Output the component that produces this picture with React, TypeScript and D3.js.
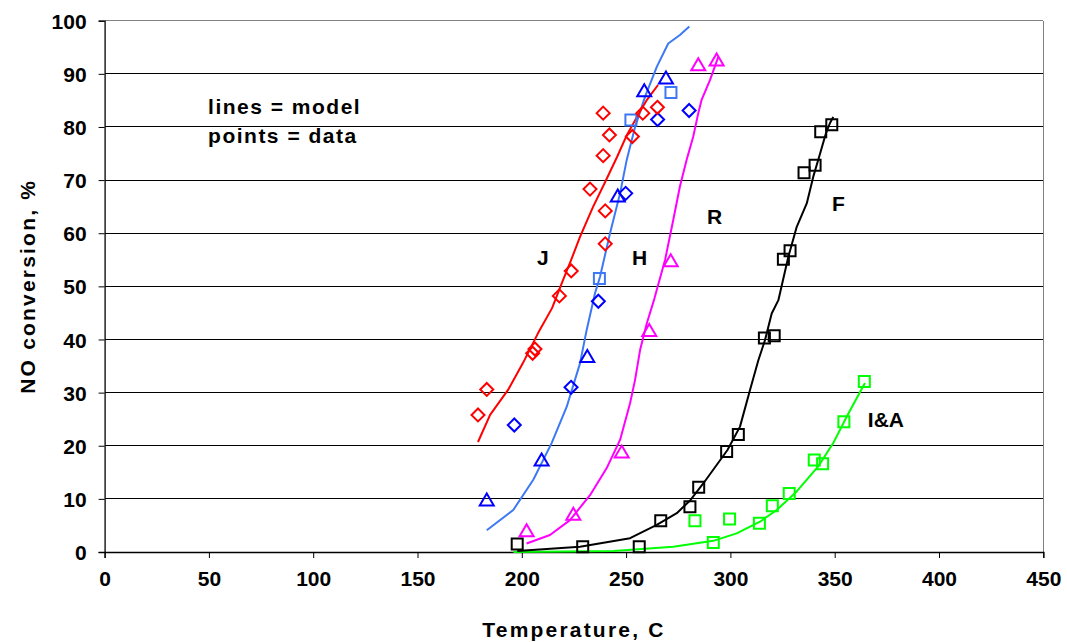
import React, { useEffect, useRef } from 'react';
import * as d3 from 'd3';

// tick values
const tempTicks = [0, 50, 100, 150, 200, 250, 300, 350, 400, 450];
const convTicks = [0, 10, 20, 30, 40, 50, 60, 70, 80, 90, 100];

// J (red)
const jData = [
  [179, 25.8], [183.2, 30.6], [205.2, 37.4], [206.3, 38.2], [218, 48.2], [223.7, 52.9],
  [232.7, 68.3], [239, 74.6], [239, 82.6], [240, 64.2], [240, 58], [242, 78.5],
  [253, 78.2], [258, 82.6], [265, 83.7],
];
const jModel = [
  [179, 20.7], [184.8, 25.8], [193.4, 30.5], [200.6, 35.6], [207.8, 41.2], [214.5, 45.9],
  [219.8, 51.2], [223.1, 54.4], [227.9, 59.3], [234.1, 64.9], [239.9, 69.6], [245.6, 74.3],
  [250.4, 78.5], [255.2, 81.9], [260, 85.1], [265.3, 87.9],
];

// H (blue)
const hTriangles = [[183.2, 9.8], [209.5, 17.3], [231.4, 36.8], [246, 67], [258.7, 86.8], [269.1, 89.2]];
const hDiamonds = [[196.4, 23.9], [223.6, 31], [236.7, 47.2], [249.8, 67.5], [265.1, 81.4], [280.2, 83.1]];
const hSquares = [[237.2, 51.5], [252.3, 81.3], [271.5, 86.5]];
const hModel = [
  [183.2, 4.1], [195.9, 7.9], [205.5, 13.6], [214.3, 20.5], [221.5, 27.3], [227.9, 35.5],
  [231.1, 41.8], [235.1, 48.7], [237.5, 51.8], [242.3, 60], [247.1, 67.5], [250.3, 73.8],
  [254.3, 80], [259.1, 85.7], [264.7, 91.3], [270.2, 95.7], [275.8, 97.3], [280.3, 98.9],
];

// R (magenta)
const rTriangles = [[202.3, 4.0], [224.7, 7.1], [247.9, 18.8], [261.1, 41.7], [271.4, 54.8], [284.6, 91.7], [293.4, 92.6]];
const rModel = [
  [202.3, 1.6], [213.5, 3.2], [223.1, 6], [232.7, 10.7], [240.7, 15.8], [247.1, 21.1],
  [251.9, 28], [254.3, 32.4], [256.7, 38], [259.9, 43], [263.5, 47.6], [268.7, 55],
  [272.6, 62.5], [275.8, 68.8], [279, 73.8], [282.2, 78.2], [284.6, 82.6], [286.2, 85.1],
  [290.2, 88.8], [294.2, 93.2],
];

// F (black)
const fSquares = [
  [197.8, 1.5], [229.2, 1.0], [256.3, 1.0], [266.6, 5.9], [280.6, 8.5], [284.8, 12.2],
  [298.2, 18.9], [303.8, 22.1], [316.3, 40.3], [321, 40.7], [325.4, 55.1], [328.6, 56.7],
  [335.3, 71.4], [340.6, 72.8], [343.3, 79.1], [348.6, 80.4],
];
const fModel = [
  [197.8, 0.2], [227.9, 1.0], [251.9, 2.6], [264.7, 5.1], [274.3, 7.3], [280.9, 9.8],
  [287, 12.9], [298.6, 19.2], [304.6, 23.6], [309.4, 30.5], [313.4, 36.1], [316.6, 39.9],
  [319.8, 44.9], [323, 47.4], [327.8, 55.6], [331.8, 61.2], [336.6, 65.6], [339.7, 70.6],
  [343, 75], [345.8, 78.8], [347.7, 80.7], [349.3, 81.9],
];

// I&A (green)
const iaSquares = [
  [283, 5.9], [291.8, 1.8], [299.6, 6.2], [313.9, 5.4], [320.1, 8.7], [328.2, 11.0],
  [340.2, 17.3], [344.2, 16.6], [354.4, 24.5], [364.2, 32.1],
];
const iaModel = [
  [196, 0], [243.9, 0.2], [272.6, 1.0], [291.8, 2.1], [303, 3.5], [314.2, 5.7],
  [322.2, 7.9], [331.8, 11.4], [342.1, 16.1], [349.3, 20.5], [355.8, 25.5], [364.5, 31.8],
];

// text annotations [label, temp, conversion]
const seriesLabels = [
  ['J', 207.3, 54], ['H', 252.8, 54], ['R', 288.8, 61.7], ['F', 348.7, 64.2], ['I&A', 365.9, 23.5],
];
const noteLines = [['lines = model', 49.6, 82.4], ['points = data', 49.6, 77]];

const W = 1067;
const H = 642;
const FONT = '"Liberation Sans", Arial, sans-serif';

const shapes = {
  diamond: 'M0,-6.5L6.5,0L0,6.5L-6.5,0Z',
  square: 'M-5.5,-5.5H5.5V5.5H-5.5Z',
  triangle: 'M0,-6.5L7,5.5L-7,5.5Z',
};

export default function App() {
  const svgRef = useRef(null);

  useEffect(() => {
    const svg = d3.select(svgRef.current);
    svg.selectAll('*').remove();

    const x = d3.scaleLinear().domain([0, 450]).range([104.6, 1043.3]);
    const y = d3.scaleLinear().domain([0, 100]).range([552, 20.7]);

    // gridlines
    svg.append('g')
      .selectAll('line')
      .data(convTicks.filter(d => d > 0))
      .join('line')
      .attr('x1', x(0)).attr('x2', x(450))
      .attr('y1', d => y(d)).attr('y2', d => y(d))
      .attr('stroke', d => (d === 100 ? '#808080' : '#000'))
      .attr('stroke-width', 1)
      .attr('shape-rendering', 'crispEdges');

    // right border
    svg.append('line')
      .attr('x1', x(450)).attr('x2', x(450))
      .attr('y1', y(0)).attr('y2', y(100))
      .attr('stroke', '#808080')
      .attr('shape-rendering', 'crispEdges');

    // axes
    const xAxis = svg.append('g')
      .attr('transform', `translate(0, ${y(0)})`)
      .call(d3.axisBottom(x).tickValues(tempTicks).tickSize(6).tickPadding(13));
    const yAxis = svg.append('g')
      .attr('transform', `translate(${x(0)}, 0)`)
      .call(d3.axisLeft(y).tickValues(convTicks).tickSize(6).tickPadding(12));

    [xAxis, yAxis].forEach(g => {
      g.select('.domain').attr('stroke', '#000').attr('stroke-width', 1.3);
      g.selectAll('.tick line').attr('stroke', '#000');
      g.selectAll('text')
        .attr('font-family', FONT)
        .attr('font-weight', 'bold')
        .attr('font-size', 21)
        .attr('fill', '#000');
    });
    yAxis.selectAll('text').attr('dy', '0.36em');

    const line = d3.line()
      .x(d => x(d[0]))
      .y(d => y(d[1]));

    const drawLine = (data, color) => {
      svg.append('path')
        .datum(data)
        .attr('fill', 'none')
        .attr('stroke', color)
        .attr('stroke-width', 2)
        .attr('stroke-linejoin', 'round')
        .attr('d', line);
    };

    const drawMarks = (data, shape, color) => {
      svg.append('g')
        .selectAll('path')
        .data(data)
        .join('path')
        .attr('transform', d => `translate(${x(d[0])}, ${y(d[1])})`)
        .attr('d', shapes[shape])
        .attr('fill', 'none')
        .attr('stroke', color)
        .attr('stroke-width', 2);
    };

    drawLine(iaModel, '#00FF00');
    drawLine(fModel, '#000000');
    drawLine(rModel, '#FF00FF');
    drawLine(hModel, '#3D78F5');
    drawLine(jModel, '#FF0000');

    drawMarks(iaSquares, 'square', '#00FF00');
    drawMarks(fSquares, 'square', '#000000');
    drawMarks(rTriangles, 'triangle', '#FF00FF');
    drawMarks(hSquares, 'square', '#3D78F5');
    drawMarks(hDiamonds, 'diamond', '#0000FF');
    drawMarks(hTriangles, 'triangle', '#0000FF');
    drawMarks(jData, 'diamond', '#FF0000');

    // labels
    svg.append('g')
      .selectAll('text')
      .data(seriesLabels)
      .join('text')
      .attr('x', d => x(d[1]))
      .attr('y', d => y(d[2]))
      .attr('font-family', FONT)
      .attr('font-weight', 'bold')
      .attr('font-size', 21)
      .text(d => d[0]);

    svg.append('g')
      .selectAll('text')
      .data(noteLines)
      .join('text')
      .attr('x', d => x(d[1]))
      .attr('y', d => y(d[2]))
      .attr('font-family', FONT)
      .attr('font-weight', 'bold')
      .attr('font-size', 21)
      .attr('letter-spacing', 1.5)
      .text(d => d[0]);

    // axis titles
    svg.append('text')
      .attr('x', (x(0) + x(450)) / 2)
      .attr('y', 637)
      .attr('text-anchor', 'middle')
      .attr('font-family', FONT)
      .attr('font-weight', 'bold')
      .attr('font-size', 21)
      .attr('letter-spacing', 2.2)
      .text('Temperature, C');

    svg.append('text')
      .attr('transform', `translate(35, ${(y(0) + y(100)) / 2}) rotate(-90)`)
      .attr('text-anchor', 'middle')
      .attr('font-family', FONT)
      .attr('font-weight', 'bold')
      .attr('font-size', 21)
      .attr('letter-spacing', 2.2)
      .text('NO conversion, %');
  }, []);

  return (
    <svg
      ref={svgRef}
      width={W}
      height={H}
      style={{ position: 'absolute', left: 0, top: 0, background: '#fff' }}
    />
  );
}
